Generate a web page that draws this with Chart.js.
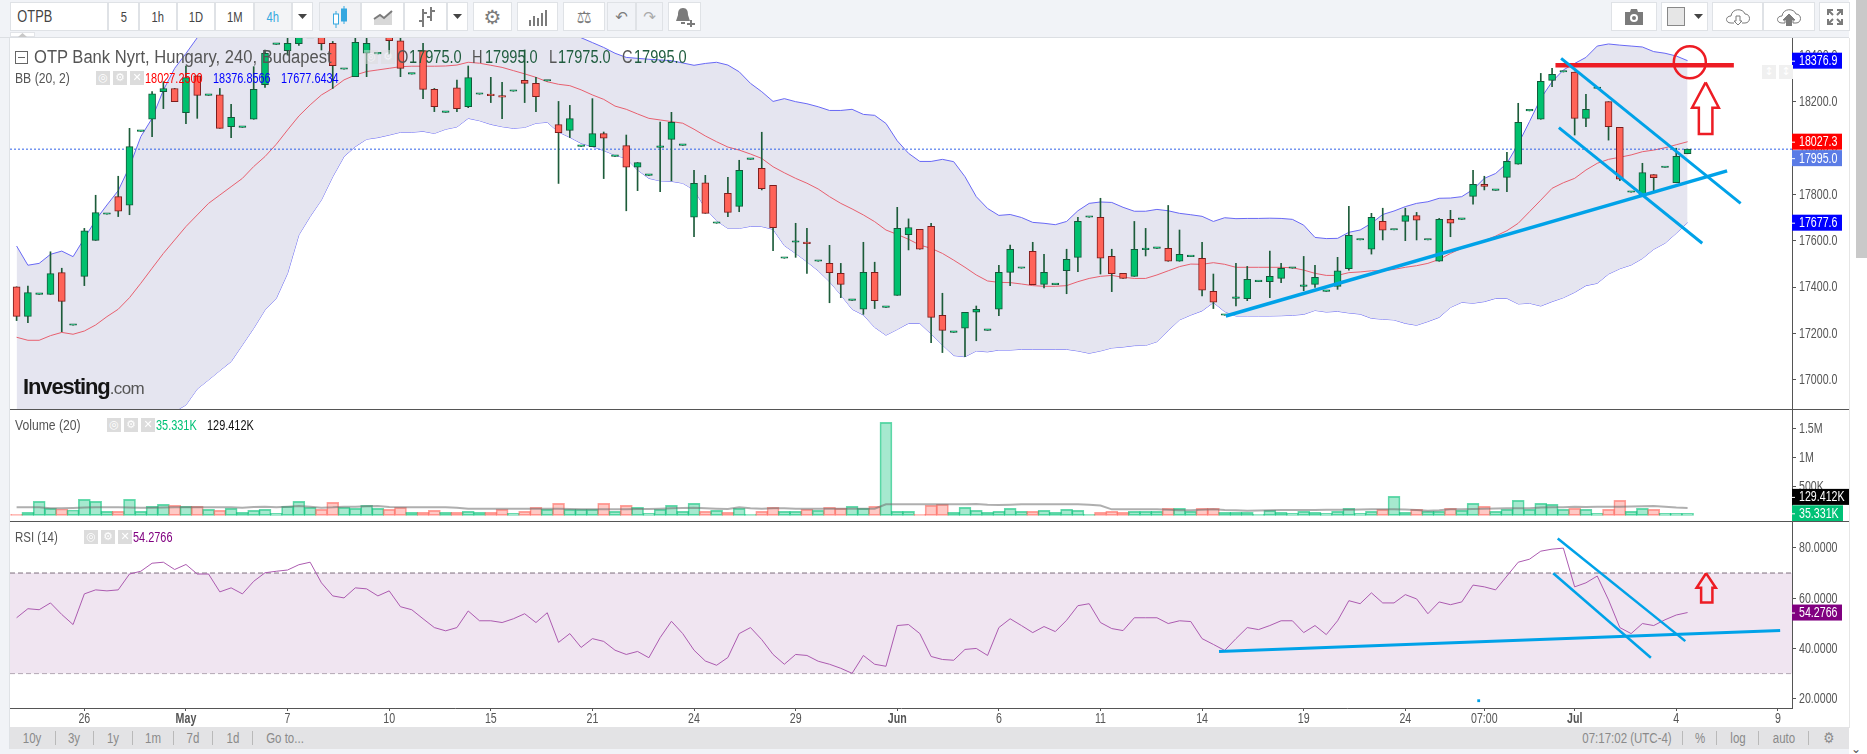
<!DOCTYPE html>
<html lang="en">
<head>
<meta charset="UTF-8">
<title>OTP Bank Nyrt, Hungary, 240, Budapest</title>
<script src="https://cdn.jsdelivr.net/npm/chart.js"></script>
<style>
    html, body { margin: 0; padding: 0; width: 1867px; height: 754px; overflow: hidden; background: #fff; }
    body { font-family: "Liberation Sans", sans-serif; color: #555; position: relative; }
    .abs { position: absolute; white-space: nowrap; }
    canvas { position: absolute; left: 10px; }
    .tb { position: absolute; top: 2px; height: 29px; box-sizing: border-box; background: #fff; border: 1px solid #dfe2e6; display: flex; align-items: center; justify-content: center; font-size: 14px; color: #444; }
    .tb b { font-weight: normal; display: inline-block; transform: scaleX(.8); }
    .legend { position: absolute; white-space: nowrap; pointer-events: none; z-index: 5; transform-origin: 0 50%; }
    .big { top: 47px; font-size: 18px; transform: scaleX(.81); color: #1f5c3e; }
    .num { font-size: 14px; transform: scaleX(.78); }
    .lab { font-size: 14px; transform: scaleX(.87); }
    .ic { position: absolute; width: 14px; height: 14px; background: #dcdcdc; color: #fff; font: 11px/14px "DejaVu Sans", sans-serif; text-align: center; z-index: 5; }
    .foot { position: absolute; top: 729px; height: 18px; line-height: 18px; font-size: 14px; color: #8a8a8a; transform: translateX(-50%) scaleX(.82); white-space: nowrap; }
    .sep { position: absolute; top: 731px; width: 1px; height: 14px; background: #b9b9b9; }
</style>
</head>
<body>
<div class="abs" style="left:0;top:0;width:1849px;height:37px;background:#f1f3f7;border-bottom:1px solid #dcdfe3;"></div>
<div class="abs" style="left:0;top:38px;width:10px;height:716px;background:#f1f3f7;border-right:1px solid #dfe2e6;box-sizing:border-box;"></div>
<div class="abs" style="left:10px;top:32px;width:25px;height:5px;background:#fff;border:1px solid #e2e4e8;box-sizing:border-box;"></div>
<div class="abs" style="left:1849px;top:38px;width:1px;height:690px;background:#e6e6e6;"></div>
<div class="abs" style="left:1856px;top:0;width:11px;height:258px;background:#c9c9c9;"></div>
<div class="abs" style="left:1851px;top:742px;font:12px 'DejaVu Sans';color:#555;">⌄</div>
<div class="abs" style="left:10px;top:727px;width:1839px;height:22px;background:#e3e3e5;"></div>
<div class="abs" style="left:0;top:749px;width:1849px;height:5px;background:#f1f3f7;"></div>
<div class="abs" style="left:10px;top:409px;width:1839px;height:1px;background:#555;z-index:4;"></div>
<div class="abs" style="left:10px;top:521px;width:1839px;height:1px;background:#555;z-index:4;"></div>

<div id="toolbar"></div>
<div id="footer"></div>

<canvas id="mainChart" width="1839" height="371" style="top:38px"></canvas>
<canvas id="volumeChart" width="1839" height="111" style="top:410px"></canvas>
<canvas id="rsiChart" width="1839" height="205" style="top:522px"></canvas>

<!-- legends -->
<div class="legend" style="left:15px;top:51px;width:11px;height:11px;border:1px solid #666;"><div style="margin:5px 2px 0;height:1px;background:#666;"></div></div>
<div class="legend" style="left:34px;top:47px;font-size:18px;transform:scaleX(.92);color:#555;">OTP Bank Nyrt, Hungary, 240, Budapest</div>
<div class="legend big" style="left:397px;color:#555;">O</div>
<div class="legend big" style="left:409px;">17975.0</div>
<div class="legend big" style="left:472px;color:#555;">H</div>
<div class="legend big" style="left:485px;">17995.0</div>
<div class="legend big" style="left:549px;color:#555;">L</div>
<div class="legend big" style="left:558px;">17975.0</div>
<div class="legend big" style="left:622px;color:#555;">C</div>
<div class="legend big" style="left:634px;">17995.0</div>

<div class="legend lab" style="left:15px;top:70px;">BB (20, 2)</div>
<div class="legend num" style="left:145px;top:70px;color:#f00;">18027.2500</div>
<div class="legend num" style="left:213px;top:70px;color:#00f;">18376.8566</div>
<div class="legend num" style="left:281px;top:70px;color:#00f;">17677.6434</div>

<div class="legend" style="left:23px;top:374px;font:bold 22px 'Liberation Sans';letter-spacing:-1.1px;color:#151515;">Investing<span style="font-weight:normal;font-size:17px;letter-spacing:-.6px;color:#555;">.com</span></div>

<div class="legend lab" style="left:15px;top:417px;">Volume (20)</div>
<div class="legend num" style="left:156px;top:417px;color:#00c176;">35.331K</div>
<div class="legend num" style="left:207px;top:417px;color:#111;">129.412K</div>

<div class="legend lab" style="left:15px;top:529px;transform:scaleX(.82);">RSI (14)</div>
<div class="legend num" style="left:133px;top:529px;color:#800080;">54.2766</div>

<div id="icons"></div>

<script>
const candleOpen = [
    17401,17273,17368,17368,17462,17235,17446,17601,17714,17790,
    17753,18072,18124,18243,18257,18152,18312,18227,18230,18092,
    18089,18124,18273,18447,18420,18450,18500,18500,18452,18340,
    18308,18409,18406,18490,18463,18319,18420,18253,18154,18260,
    18178,18232,18232,18226,18245,18292,18279,18289,18101,18076,
    18007,18006,18062,17964,18010,17917,17882,18003,18037,18011,
    17701,17850,17675,17804,17748,17951,17912,17839,17524,17593,
    17590,17511,17502,17459,17342,17304,17463,17312,17364,17626,
    17649,17662,17278,17204,17222,17291,17213,17304,17463,17481,
    17554,17411,17410,17470,17528,17701,17701,17532,17459,17446,
    17561,17567,17567,17511,17531,17524,17381,17278,17351,17350,
    17423,17423,17437,17481,17403,17411,17381,17403,17479,17603,
    17563,17683,17646,17683,17708,17603,17511,17692,17692,17791,
    17843,17817,17873,17930,18160,18124,18292,18328,18328,18128,
    18257,18200,18089,17809,17790,17885,17916,17850,17975];
const candleHigh = [
    17401,17404,17368,17552,17481,17235,17653,17796,17714,17878,
    18085,18072,18243,18286,18257,18354,18312,18227,18257,18188,
    18089,18351,18423,18447,18490,18500,18500,18520,18460,18340,
    18500,18500,18406,18520,18500,18319,18452,18257,18154,18293,
    18354,18232,18305,18283,18245,18423,18305,18289,18201,18184,
    18007,18213,18069,17964,18056,17937,17882,18112,18154,18011,
    17904,17882,17675,17873,17947,17951,18068,17839,17524,17675,
    17653,17511,17580,17502,17342,17593,17507,17312,17744,17694,
    17649,17675,17373,17204,17291,17318,17213,17494,17581,17481,
    17593,17541,17410,17563,17701,17701,17783,17563,17459,17683,
    17653,17567,17752,17646,17531,17593,17456,17278,17502,17489,
    17423,17555,17502,17481,17532,17494,17381,17528,17748,17603,
    17718,17740,17646,17740,17722,17603,17696,17731,17692,17904,
    17878,17817,17981,18193,18160,18322,18344,18328,18328,18232,
    18257,18200,18089,17809,17934,17885,17916,17999,17995];
const candleLow = [
    17255,17246,17368,17368,17207,17235,17406,17601,17714,17704,
    17712,18072,18049,18170,18200,18105,18128,18227,18085,18045,
    18089,18124,18262,18447,18401,18443,18500,18423,18257,18340,
    18308,18308,18406,18406,18308,18319,18213,18157,18154,18157,
    18174,18232,18196,18127,18245,18196,18157,18289,17847,18045,
    18007,18006,17868,17964,17729,17816,17882,17811,17858,18011,
    17617,17718,17675,17704,17725,17951,17819,17557,17524,17528,
    17459,17511,17332,17354,17342,17282,17307,17312,17364,17560,
    17563,17160,17117,17204,17099,17168,17213,17276,17406,17481,
    17410,17396,17410,17371,17466,17701,17456,17380,17437,17446,
    17534,17567,17511,17511,17531,17361,17307,17278,17318,17341,
    17423,17354,17419,17481,17384,17398,17381,17390,17473,17603,
    17542,17603,17646,17600,17603,17603,17511,17617,17692,17758,
    17819,17817,17811,17930,18160,18124,18265,18328,18056,18092,
    18257,18034,17859,17809,17790,17811,17916,17850,17975];
const candleClose = [
    17273,17376,17368,17458,17338,17235,17643,17721,17714,17727,
    18006,18072,18234,18257,18200,18304,18227,18227,18085,18132,
    18089,18253,18409,18447,18452,18480,18500,18450,18355,18340,
    18456,18452,18406,18463,18344,18319,18253,18178,18154,18170,
    18304,18232,18226,18219,18245,18279,18222,18289,18066,18127,
    18007,18062,18042,17964,17917,17937,17882,18003,18111,18011,
    17847,17718,17675,17722,17904,17951,17824,17656,17524,17593,
    17587,17511,17462,17411,17342,17463,17341,17312,17653,17657,
    17563,17269,17213,17204,17291,17304,17213,17463,17563,17481,
    17410,17463,17410,17519,17683,17701,17524,17458,17437,17563,
    17561,17567,17511,17541,17531,17386,17334,17278,17351,17433,
    17423,17446,17481,17481,17403,17442,17381,17470,17623,17603,
    17701,17645,17646,17708,17688,17603,17692,17675,17692,17843,
    17834,17817,17942,18111,18160,18288,18318,18328,18128,18167,
    18257,18092,17865,17809,17894,17872,17916,17964,17995];

// Bollinger bands, the part above the pane top is a guess
const bbUpper = [
    17577,17494,17502,17541,17555,17531,17610,17689,17754,17816,
    17919,18049,18128,18250,18344,18408,18476,18530,18560,18580,
    18600,18620,18650,18680,18710,18720,18730,18740,18745,18745,
    18750,18750,18740,18730,18725,18710,18700,18680,18670,18660,
    18640,18620,18600,18580,18570,18550,18540,18530,18520,18500,
    18476,18455,18434,18409,18391,18387,18383,18380,18377,18367,
    18357,18365,18370,18358,18329,18279,18243,18201,18213,18200,
    18191,18178,18162,18162,18167,18145,18141,18106,18031,17977,
    17942,17942,17951,17941,17876,17790,17739,17709,17713,17700,
    17679,17675,17669,17683,17729,17761,17767,17765,17744,17727,
    17727,17735,17729,17718,17712,17705,17683,17699,17695,17696,
    17696,17697,17696,17692,17667,17614,17609,17610,17636,17646,
    17675,17713,17728,17747,17761,17768,17783,17784,17790,17821,
    17869,17890,17934,18017,18114,18214,18286,18337,18365,18391,
    18440,18449,18444,18440,18436,18416,18409,18397,18377];
const bbMiddle = [
    17183,17170,17170,17190,17204,17196,17210,17236,17272,17304,
    17354,17416,17481,17545,17603,17661,17711,17761,17797,17833,
    17869,17920,17963,18016,18078,18138,18186,18229,18258,18294,
    18315,18330,18337,18344,18351,18353,18353,18353,18354,18358,
    18370,18366,18357,18348,18334,18320,18305,18286,18275,18269,
    18251,18229,18210,18181,18167,18147,18128,18121,18114,18107,
    18081,18052,18027,18004,17991,17974,17955,17919,17893,17869,
    17848,17823,17790,17761,17737,17711,17682,17646,17627,17606,
    17581,17567,17545,17516,17485,17452,17426,17420,17419,17413,
    17406,17403,17403,17406,17423,17437,17446,17450,17442,17437,
    17437,17452,17470,17488,17499,17498,17505,17498,17485,17485,
    17485,17485,17485,17483,17473,17459,17450,17450,17462,17465,
    17470,17470,17476,17485,17492,17502,17519,17545,17567,17584,
    17600,17620,17643,17675,17725,17775,17826,17850,17869,17905,
    17934,17951,17960,17970,17984,17991,18001,18014,18027];
const bbLower = [
    16789,16846,16838,16839,16853,16861,16810,16783,16790,16792,
    16789,16783,16834,16840,16862,16891,16960,16999,17039,17078,
    17150,17222,17301,17351,17459,17625,17704,17776,17876,17963,
    18006,18038,18045,18056,18068,18068,18072,18063,18081,18091,
    18128,18118,18102,18092,18085,18089,18107,18111,18069,18046,
    18020,18006,17989,17969,17955,17905,17869,17858,17856,17848,
    17819,17740,17686,17653,17653,17662,17661,17649,17579,17545,
    17509,17470,17423,17366,17304,17279,17226,17192,17217,17243,
    17243,17197,17150,17104,17099,17124,17120,17128,17128,17131,
    17131,17131,17131,17131,17124,17114,17124,17137,17141,17147,
    17148,17164,17212,17258,17279,17297,17333,17294,17275,17275,
    17275,17275,17276,17278,17282,17299,17292,17295,17288,17283,
    17265,17261,17258,17243,17235,17251,17269,17312,17334,17330,
    17337,17351,17351,17327,17330,17318,17337,17354,17377,17406,
    17416,17456,17479,17495,17523,17563,17589,17632,17678];

// volume in thousands
const volumeValues = [
    17,52,243,121,110,92,277,243,69,69,
    277,69,156,191,173,156,156,104,87,121,
    52,87,104,35,156,243,139,104,225,139,
    121,173,121,104,139,52,52,87,52,52,
    69,52,52,104,35,69,139,104,208,104,
    104,104,208,69,173,139,35,104,173,69,
    208,69,87,52,121,17,69,139,69,69,
    104,87,139,121,156,121,156,1613,69,69,
    17,173,191,52,139,87,52,69,121,69,
    69,87,52,104,87,17,52,69,52,69,
    69,69,121,121,69,121,121,52,52,52,
    17,87,52,35,69,52,35,69,121,35,
    69,104,329,52,104,69,69,121,87,208,
    156,69,104,260,104,208,191,104,121,104,
    35,104,260,69,121,104,35,35,35.331];
const volumeAverage = [
    139,139,139,125,121,127,135,139,139,139,
    136,133,133,136,139,139,139,139,139,139,
    133,145,150,139,150,162,150,133,139,150,
    150,156,162,145,139,139,139,139,139,133,
    116,116,116,116,116,116,116,116,116,110,
    104,104,104,104,104,110,110,116,121,127,
    133,125,116,110,139,125,116,122,122,116,
    116,116,116,116,116,116,116,191,191,191,
    191,191,191,191,191,197,185,179,185,191,
    191,191,191,191,191,185,170,104,104,104,
    104,104,98,90,87,98,104,92,87,81,
    85,87,92,92,92,92,95,95,98,100,
    104,104,104,100,92,81,90,104,105,110,
    115,118,121,121,125,135,140,140,150,145,
    150,150,150,155,158,162,150,135,129.412];

const rsiValues = [
    52.2,55.8,55.4,58.1,53.5,49.5,61.7,63.3,62.9,63.3,
    69.6,70.7,73.9,74.3,71.4,73.4,69.6,69.6,62.5,64.1,
    61.7,66.7,70.1,70.7,71.2,73.3,74.3,66.1,60.9,60.1,
    64.1,63.7,60.9,62.9,56.6,55.4,51.8,48.3,47.0,48.3,
    54.9,51.0,51.0,50.3,51.8,53.8,50.3,54.2,42.4,45.9,
    40.4,43.9,42.8,39.3,37.6,38.8,36.3,44.3,50.8,45.9,
    39.3,35.0,33.3,36.4,45.9,48.3,43.5,37.6,33.7,37.6,
    37.2,34.9,33.7,32.1,30.1,37.2,33.7,32.9,49.1,49.5,
    45.9,36.8,35.6,35.3,39.6,40.0,37.2,48.3,51.8,49.1,
    46.3,48.7,46.7,51.2,57.0,57.8,50.3,47.9,47.1,52.2,
    52.2,52.2,49.9,51.0,50.7,43.9,41.6,39.2,43.9,48.3,
    47.5,49.1,51.0,51.0,46.3,49.1,45.5,51.0,59.0,57.8,
    62.1,58.1,58.1,61.4,59.7,53.8,58.5,57.4,58.5,65.2,
    64.5,63.3,68.8,74.3,75.5,78.7,79.5,79.9,64.5,66.1,
    68.8,59.3,48.3,45.9,49.9,49.1,51.4,53.3,54.2766];

// time axis
const timeTickBars = [6,15,24,33,42,51,60,69,78,87,96,105,114,123,130,138,147,156];
const timeTickLabels = ['26','May','7','10','15','21','24','29','Jun','6','11','14','19','24','07:00','Jul','4','9'];
const boldTimeLabels = ['May','Jun','Jul'];

const priceTicks = [17000,17200,17400,17600,17800,18000,18200,18400];
const volumeTicks = [500,1000,1500];
const rsiTicks = [20,40,60,80];
const lastClose = 17995;
const rsiBandTop = 70, rsiBandBottom = 30;

// hand drawn lines on the chart: [bar, price]
const trendLong = [[107.1,17275],[151.5,17901]];
const channelUpper = [[136.8,18387],[152.7,17761]];
const channelLower = [[136.6,18088],[149.3,17589]];
const resistanceRed = [[136.3,18357],[152.1,18357]];
const resistanceCircle = [[148.2,18370]];
const arrowMain = [[149.6,18283],[150.77,18174],[150.2,18174],[150.2,18060],[149.0,18060],[149.0,18174],[148.4,18174],[149.6,18283]];
const rsiTrend = [[106.5,38.8],[156.2,47.1]];
const rsiChannelUpper = [[136.5,83.7],[147.8,42.9]];
const rsiChannelLower = [[136.1,69.9],[144.75,36.3]];
const rsiDot = [[129.5,19.2]];
const arrowRsi = [[149.64,69.9],[150.5,64.1],[150.2,64.1],[150.2,58.3],[149.2,58.3],[149.2,64.1],[148.8,64.1],[149.64,69.9]];

const mainTags = [
    { value: 18376.9, text: '18376.9', bg: '#0000ff' },
    { value: 18027.3, text: '18027.3', bg: '#ff0000' },
    { value: 17995, text: '17995.0', bg: '#5b7ce6', nudge: 9 },
    { value: 17677.6, text: '17677.6', bg: '#0000ff' }
];
const volumeTags = [
    { value: 129.412, text: '129.412K', bg: '#000', nudge: -11, width: 57 },
    { value: 35.331, text: '35.331K', bg: '#00c176', width: 51 }
];
const rsiTags = [{ value: 54.2766, text: '54.2766', bg: '#800080' }];

const axisFont = '"Liberation Sans", sans-serif';
const BAR_MIN = -0.585, BAR_MAX = 157.25;
const AXIS_WIDTH = 57, AXIS_COLOR = '#555';
const TEXT_SQUEEZE = 0.76;
const BLUE = '#00a2e8', RED = '#ed1c24';

const seriesPoints = ys => ys.map((y, i) => ({ x: i, y }));
const pairPoints = pairs => pairs.map(([x, y]) => ({ x, y }));
const isDown = i => candleClose[i] < candleOpen[i];

function flatLine(value, style) {
    return { type: 'line', data: pairPoints([[BAR_MIN, value], [BAR_MAX, value]]), pointRadius: 0, borderWidth: 1, ...style };
}

function drawnLine(pairs, color, width, order) {
    return { type: 'line', data: pairPoints(pairs), borderColor: color, borderWidth: width, pointRadius: 0, order: order || 0, borderCapStyle: 'butt' };
}

function lineSeries(ys, color, style) {
    return { type: 'line', data: seriesPoints(ys), borderColor: color, borderWidth: 1, pointRadius: 0, tension: 0, ...style };
}

// the screenshot's labels are horizontally squeezed, so text goes through this
function squeezedText(ctx, text, x, y, align) {
    ctx.save();
    ctx.translate(x, y);
    ctx.scale(TEXT_SQUEEZE, 1);
    ctx.textAlign = align;
    ctx.textBaseline = 'middle';
    ctx.fillText(text, 0, 0);
    ctx.restore();
}

function tagPlugin(tags) {
    return {
        id: 'tags',
        afterDraw(chart) {
            const ctx = chart.ctx, left = chart.chartArea.right;
            ctx.save();
            ctx.font = '14px ' + axisFont;
            tags.forEach(tag => {
                const y = chart.scales.y.getPixelForValue(tag.value) + (tag.nudge || 0);
                ctx.fillStyle = tag.bg;
                ctx.fillRect(left, y - 8, tag.width || 50, 16);
                ctx.fillStyle = '#fff';
                ctx.fillRect(left, y, 3, 1);
                squeezedText(ctx, tag.text, left + 7, y + 0.5, 'left');
            });
            ctx.restore();
        }
    };
}

// tick labels for the value axis and, when the pane has one, the time axis
const axisLabels = {
    id: 'axisLabels',
    afterDraw(chart) {
        const ctx = chart.ctx, area = chart.chartArea, yAxis = chart.scales.y, xAxis = chart.scales.x;
        ctx.save();
        ctx.fillStyle = '#555';
        ctx.font = '14px ' + axisFont;
        yAxis.ticks.forEach(t => {
            squeezedText(ctx, yAxis.options.ticks.callback(t.value), area.right + 7, yAxis.getPixelForValue(t.value) + 0.5, 'left');
        });
        if (xAxis.options.display) {
            timeTickBars.forEach((bar, i) => {
                const label = timeTickLabels[i];
                ctx.font = (boldTimeLabels.includes(label) ? 'bold ' : '') + '14px ' + axisFont;
                squeezedText(ctx, label, xAxis.getPixelForValue(bar), area.bottom + 11, 'center');
            });
        }
        ctx.restore();
    }
};

function xScale(showLabels) {
    return {
        type: 'linear', min: BAR_MIN, max: BAR_MAX, offset: false,
        display: showLabels,
        grid: { drawOnChartArea: false, drawTicks: true, tickLength: 3, color: AXIS_COLOR },
        border: { color: AXIS_COLOR },
        afterBuildTicks: s => { s.ticks = timeTickBars.map(value => ({ value })); },
        afterFit: s => { if (showLabels) s.height = 19; },
        ticks: { display: false, autoSkip: false }
    };
}

function yScale(min, max, ticks, format) {
    return {
        position: 'right', min, max,
        grid: { drawOnChartArea: false, tickLength: 4, color: AXIS_COLOR },
        border: { color: AXIS_COLOR },
        afterBuildTicks: s => { s.ticks = ticks.map(value => ({ value })); },
        afterFit: s => { s.width = AXIS_WIDTH; },
        ticks: { display: false, autoSkip: false, callback: format }
    };
}

function paneOptions(showLabels, y) {
    return {
        responsive: false, animation: false, devicePixelRatio: 1,
        layout: { padding: 0, autoPadding: false },
        plugins: { legend: { display: false }, tooltip: { enabled: false } },
        scales: { x: xScale(showLabels), y }
    };
}

// price pane
new Chart(document.getElementById('mainChart'), {
    type: 'bar',
    data: {
        datasets: [
            lineSeries(bbUpper, '#6868f5', { fill: '+1', backgroundColor: '#e5e5f0', order: 5 }),
            lineSeries(bbLower, '#6868f5', { order: 5 }),
            lineSeries(bbMiddle, '#e8606f', { order: 4 }),
            flatLine(lastClose, { borderColor: '#2f62e8', borderDash: [2, 2], order: 3 }),
            {
                data: candleHigh.map((h, i) => ({ x: i, y: [candleLow[i], h] })),
                backgroundColor: '#1d5c3a', barThickness: 1, grouped: false, order: 2
            },
            {
                data: candleOpen.map((o, i) => ({ x: i, y: [o, candleClose[i]] })),
                backgroundColor: candleOpen.map((o, i) => isDown(i) ? '#ff6358' : '#00c06e'),
                borderColor: candleOpen.map((o, i) => isDown(i) ? '#7d1d1d' : '#14583a'),
                borderWidth: 1, borderSkipped: false, barThickness: 7, minBarLength: 1.5, grouped: false, order: 1
            },
            drawnLine(trendLong, BLUE, 3.5),
            drawnLine(channelUpper, BLUE, 3),
            drawnLine(channelLower, BLUE, 3),
            drawnLine(resistanceRed, RED, 4.5),
            { type: 'line', data: pairPoints(resistanceCircle), showLine: false, pointStyle: 'circle', pointRadius: 16, pointBorderWidth: 2.5, pointBorderColor: RED, pointBackgroundColor: 'transparent', order: 0 },
            drawnLine(arrowMain, RED, 2.5)
        ]
    },
    options: paneOptions(false, yScale(16873.4, 18474.8, priceTicks, v => v.toFixed(1))),
    plugins: [axisLabels, tagPlugin(mainTags)]
});

// volume pane
new Chart(document.getElementById('volumeChart'), {
    type: 'bar',
    data: {
        datasets: [
            lineSeries(volumeAverage, 'rgba(110,110,110,.55)', { borderWidth: 2, order: 0 }),
            {
                data: seriesPoints(volumeValues),
                backgroundColor: volumeValues.map((v, i) => isDown(i) ? 'rgba(255,99,88,.35)' : 'rgba(0,193,118,.35)'),
                borderColor: volumeValues.map((v, i) => isDown(i) ? 'rgba(255,99,88,.6)' : 'rgba(0,193,118,.6)'),
                borderWidth: 1, borderSkipped: false, barThickness: 12, grouped: false, order: 1
            }
        ]
    },
    options: paneOptions(false, yScale(-98, 1827, volumeTicks, v => v >= 1000 ? (v / 1000) + 'M' : v + 'K')),
    plugins: [axisLabels, tagPlugin(volumeTags)]
});

// rsi pane
const bandEdge = { borderColor: '#7d6f7d', borderDash: [5, 3] };
new Chart(document.getElementById('rsiChart'), {
    type: 'line',
    data: {
        datasets: [
            flatLine(rsiBandTop, { ...bandEdge, fill: '+1', backgroundColor: '#f0e5f1', order: 3 }),
            flatLine(rsiBandBottom, { ...bandEdge, order: 3 }),
            lineSeries(rsiValues, '#ac5bb0', { order: 2 }),
            drawnLine(rsiTrend, BLUE, 3),
            drawnLine(rsiChannelUpper, BLUE, 2.5),
            drawnLine(rsiChannelLower, BLUE, 2.5),
            drawnLine(arrowRsi, RED, 2.5),
            { data: pairPoints(rsiDot), showLine: false, pointStyle: 'rect', pointRadius: 2, pointBackgroundColor: BLUE, pointBorderWidth: 0, order: 0 }
        ]
    },
    options: paneOptions(true, yScale(16.3, 90.3, rsiTicks, v => v.toFixed(4))),
    plugins: [axisLabels, tagPlugin(rsiTags)]
});

// toolbar and footer furniture
const gray = '#7b7b7b';
const caret = '<svg width="9" height="5"><path d="M0 0h9L4.5 5z" fill="#444"/></svg>';
const candleIcon = c => `<svg width="16" height="24" stroke="${c}" fill="none"><path d="M4 6v17M12 1v18"/><rect x="1.5" y="9" width="5" height="10" fill="#fff"/><rect x="9.5" y="4" width="5" height="12" fill="${c}"/></svg>`;
const toolbarButtons = [
    [10, 98, '<b style="font-size:16px;position:absolute;left:2px">OTPB</b>'],
    [108, 31, '<b>5</b>'], [139, 38, '<b>1h</b>'], [177, 38, '<b>1D</b>'], [215, 39, '<b>1M</b>'],
    [254, 38, '<b style="color:#35a8e0">4h</b>', '#f3f4f6'], [292, 21, caret],
    [319, 42, candleIcon('#35a8e0'), '#f1f2f5'],
    [361, 43, `<svg width="20" height="18"><path d="M1 17V11L7 7l4 3 8-7v14z" fill="#d8d8d8"/><path d="M1 11L7 7l4 3 8-7" stroke="${gray}" stroke-width="2" fill="none"/></svg>`],
    [404, 43, `<svg width="18" height="22" stroke="${gray}" stroke-width="2" fill="none"><path d="M6 3v18M2 15h4M6 7h4M14 1v14M10 11h4M14 5h4"/></svg>`],
    [447, 21, caret],
    [473, 39, `<span style="font:20px 'DejaVu Sans';color:${gray}">⚙</span>`],
    [517, 41, `<svg width="20" height="18" fill="${gray}"><path d="M1 12h2v6H1zM5 8h2v10H5zM9 10h2v8H9zM13 5h2v13h-2zM17 2h2v16h-2z"/></svg>`],
    [563, 42, `<span style="font:17px 'DejaVu Sans';color:${gray}">⚖</span>`],
    [607, 29, `<span style="font:15px 'DejaVu Sans';color:${gray}">↶</span>`, '#f1f3f7'],
    [636, 27, '<span style="font:15px \'DejaVu Sans\';color:#aaa">↷</span>', '#f1f3f7'],
    [668, 33, `<svg width="20" height="20" fill="${gray}"><path d="M8 1c4 0 5 3 5 7l2 6H1l2-6c0-4 1-7 5-7zM6 15h4v2H6zM15 13h2v3h3v2h-3v2h-2v-2h-3v-2h3z"/></svg>`],
    [1611, 46, `<svg width="20" height="17" fill="${gray}"><path d="M1 4h5l1-3h6l1 3h5v13H1z"/><circle cx="10" cy="10" r="4" fill="#fff"/><circle cx="10" cy="10" r="2"/></svg>`],
    [1661, 47, `<span style="display:inline-block;width:16px;height:17px;background:#e6e6e6;border:1px solid #888;margin-right:9px"></span>${caret}`],
    [1712, 51, `<svg width="26" height="18" fill="none" stroke="${gray}"><path d="M6 15c-6 0-6-7 0-7 1-8 12-8 14-2 6 0 6 9 0 9h-3M9 15h-3"/><path d="M11 8h4v5h2l-4 4-4-4h2z"/></svg>`],
    [1763, 52, `<svg width="26" height="18" fill="${gray}"><path d="M6 15c-6 0-6-7 0-7 1-8 12-8 14-2 6 0 6 9 0 9h-3v-3h2l-6-6-6 6h2v3z" fill="none" stroke="${gray}"/><path d="M13 6l6 6h-3v6h-6v-6H7z"/></svg>`],
    [1819, 31, `<svg width="18" height="18" stroke="${gray}" stroke-width="2" fill="none"><path d="M2 7V2h5M16 7V2h-5M2 11v5h5M16 11v5h-5M2 2l5 5M16 2l-5 5M2 16l5-5M16 16l-5-5"/></svg>`]
];
document.getElementById('toolbar').innerHTML = toolbarButtons.map(([left, width, html, bg]) =>
    `<div class="tb" style="left:${left}px;width:${width}px;${bg ? 'background:' + bg : ''}">${html}</div>`).join('') +
    '<svg class="abs" style="left:18px;top:33px" width="9" height="4"><path d="M0 4L4.5 0 9 4z" fill="#c8c8c8"/></svg>';

const footerItems = [
    ['10y', 32], ['3y', 74], ['1y', 113], ['1m', 153], ['7d', 193], ['1d', 232.5], ['Go to...', 285],
    ['07:17:02 (UTC-4)', 1627], ['%', 1700], ['log', 1738], ['auto', 1784]
];
const footerSeps = [54.6, 93, 132, 173, 212, 251.5, 1682, 1716, 1758, 1808];
document.getElementById('footer').innerHTML =
    footerItems.map(([t, x]) => `<div class="foot" style="left:${x}px">${t}</div>`).join('') +
    footerSeps.map(x => `<div class="sep" style="left:${x}px"></div>`).join('') +
    `<div class="foot" style="left:1829px;font:15px/18px 'DejaVu Sans'">⚙</div>`;

const legendIcons = [[96, 71], [113, 71], [130, 71], [107, 418], [124, 418], [141, 418], [84, 530], [101, 530], [118, 530]];
const legendGlyphs = ['◎', '⚙', '✕'];
document.getElementById('icons').innerHTML = legendIcons.map(([x, y], i) =>
    `<div class="ic" style="left:${x}px;top:${y}px">${legendGlyphs[i % 3]}</div>`).join('') +
    [[364, 50], [381, 50]].map(([x, y], i) => `<div class="ic" style="left:${x}px;top:${y}px;opacity:.5">${legendGlyphs[i]}</div>`).join('') +
    [[1762, 65], [1779, 65]].map(([x, y]) => `<div class="ic" style="left:${x}px;top:${y}px;background:#f0f0f0">↕</div>`).join('');
</script>
</body>
</html>
